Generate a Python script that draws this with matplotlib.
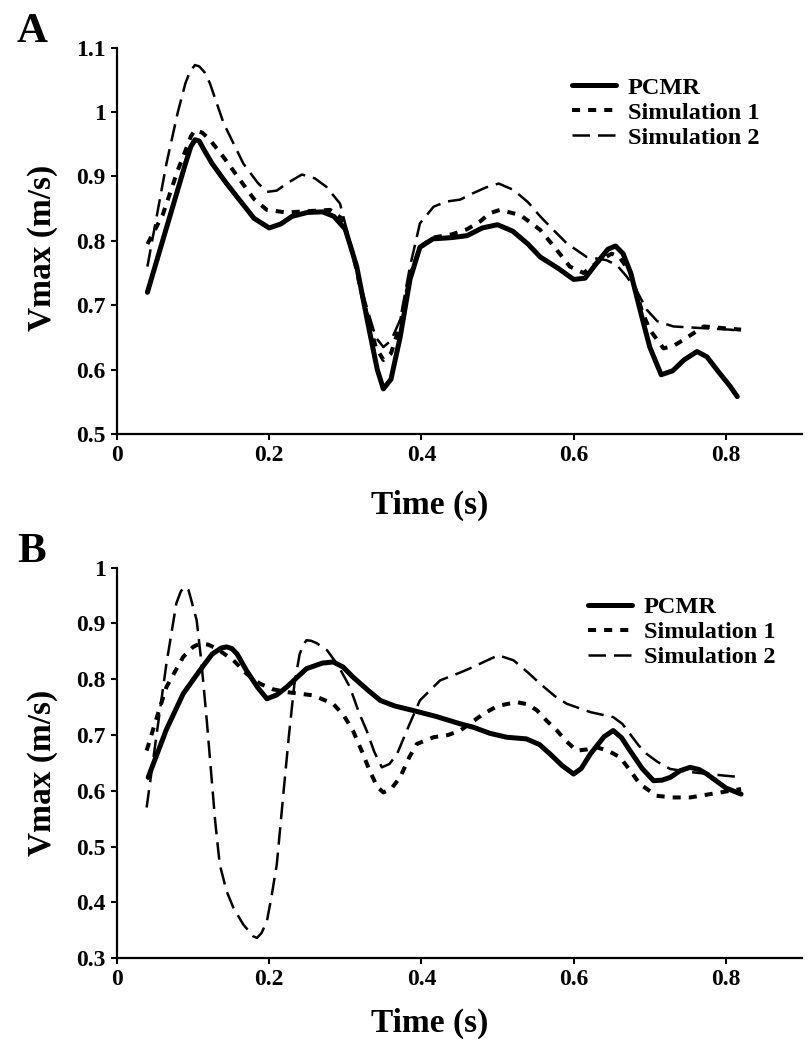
import matplotlib
matplotlib.use("Agg")
import matplotlib.pyplot as plt
from matplotlib.ticker import FuncFormatter, MultipleLocator

plt.rcParams['font.family'] = ['Liberation Serif', 'DejaVu Serif']
plt.rcParams['font.weight'] = 'bold'

# ---- Panel A data (time in s, Vmax in m/s) ----
a_pcmr_t = [0.04, 0.06, 0.08, 0.09, 0.097, 0.1025, 0.108, 0.115, 0.125, 0.144, 0.16, 0.18,
            0.2, 0.215, 0.23, 0.25, 0.27, 0.285, 0.3, 0.315, 0.33, 0.342, 0.35, 0.36, 0.372,
            0.385, 0.398, 0.415, 0.44, 0.46, 0.48, 0.5, 0.52, 0.54, 0.556, 0.58, 0.6, 0.615,
            0.63, 0.645, 0.655, 0.665, 0.675, 0.69, 0.7, 0.715, 0.73, 0.745, 0.762,
            0.775, 0.79, 0.805, 0.815]
a_pcmr_v = [0.72, 0.80, 0.88, 0.92, 0.946, 0.957, 0.955, 0.94, 0.92, 0.889, 0.865, 0.835,
            0.82, 0.826, 0.838, 0.844, 0.845, 0.838, 0.818, 0.76, 0.67, 0.60, 0.57, 0.585, 0.65,
            0.74, 0.79, 0.803, 0.805, 0.808, 0.82, 0.825, 0.815, 0.795, 0.775, 0.757, 0.74, 0.742,
            0.765, 0.787, 0.792, 0.78, 0.75, 0.68, 0.635, 0.592, 0.598, 0.615, 0.628,
            0.62, 0.597, 0.575, 0.558]

a_sim1_t = [0.04, 0.06, 0.08, 0.09, 0.097, 0.1025, 0.112, 0.122, 0.14, 0.162, 0.18, 0.197,
            0.223, 0.25, 0.28, 0.295, 0.31, 0.325, 0.34, 0.35, 0.36, 0.372, 0.385, 0.398, 0.415,
            0.44, 0.46, 0.477, 0.49, 0.503, 0.53, 0.556, 0.575, 0.595, 0.613, 0.635, 0.65,
            0.66, 0.675, 0.69, 0.7, 0.718, 0.73, 0.744, 0.771, 0.8, 0.82]
a_sim1_v = [0.795, 0.84, 0.91, 0.94, 0.962, 0.972, 0.968, 0.957, 0.93, 0.894, 0.865, 0.848,
            0.844, 0.846, 0.848, 0.835, 0.78, 0.70, 0.635, 0.615, 0.625, 0.67, 0.745, 0.79, 0.805,
            0.81, 0.818, 0.83, 0.843, 0.848, 0.84, 0.817, 0.79, 0.76, 0.75, 0.77, 0.78,
            0.775, 0.75, 0.69, 0.662, 0.633, 0.636, 0.646, 0.667, 0.664, 0.662]

a_sim2_t = [0.04, 0.065, 0.08, 0.09, 0.096, 0.1025, 0.108, 0.115, 0.122, 0.14, 0.166, 0.185,
            0.197, 0.21, 0.223, 0.243, 0.26, 0.275, 0.293, 0.31, 0.325, 0.34, 0.35, 0.36, 0.372,
            0.385, 0.398, 0.416, 0.433, 0.451, 0.468, 0.485, 0.5016, 0.521, 0.54, 0.556, 0.575,
            0.591, 0.617, 0.643, 0.657, 0.67, 0.684, 0.696, 0.71, 0.731, 0.76, 0.806, 0.82]
a_sim2_v = [0.76, 0.92, 1.0, 1.045, 1.063, 1.073, 1.071, 1.062, 1.045, 0.983, 0.92, 0.89,
            0.876, 0.878, 0.889, 0.903, 0.897, 0.884, 0.858, 0.78, 0.71, 0.65, 0.635, 0.645, 0.677,
            0.76, 0.827, 0.853, 0.861, 0.864, 0.874, 0.883, 0.889, 0.879, 0.86, 0.838, 0.815,
            0.796, 0.775, 0.77, 0.762, 0.744, 0.72, 0.693, 0.675, 0.667, 0.665, 0.662, 0.66]

# ---- Panel B data ----
b_pcmr_t = [0.041, 0.065, 0.087, 0.109, 0.125, 0.137, 0.144, 0.151, 0.158, 0.17, 0.185,
            0.197, 0.21, 0.223, 0.249, 0.27, 0.284, 0.297, 0.31, 0.33, 0.346, 0.365, 0.389,
            0.42, 0.451, 0.468, 0.49, 0.512, 0.538, 0.555, 0.569, 0.585, 0.6, 0.61, 0.622,
            0.64, 0.652, 0.663, 0.674, 0.69, 0.705, 0.716, 0.727, 0.74, 0.753, 0.765, 0.775,
            0.79, 0.8, 0.82]
b_pcmr_v = [0.624, 0.71, 0.774, 0.816, 0.845, 0.856, 0.858, 0.855, 0.845, 0.816, 0.785,
            0.765, 0.772, 0.786, 0.819, 0.829, 0.831, 0.822, 0.804, 0.78, 0.762, 0.752, 0.744,
            0.733, 0.72, 0.714, 0.703, 0.696, 0.693, 0.683, 0.666, 0.645, 0.63, 0.64, 0.666,
            0.697, 0.708, 0.695, 0.672, 0.64, 0.618, 0.619, 0.624, 0.636, 0.642, 0.638, 0.63,
            0.615, 0.605, 0.594]

b_sim1_t = [0.039, 0.052, 0.065, 0.087, 0.1, 0.109, 0.12, 0.131, 0.153, 0.17, 0.188, 0.205,
            0.223, 0.258, 0.284, 0.298, 0.31, 0.322, 0.332, 0.342, 0.35, 0.36, 0.372, 0.384,
            0.394, 0.416, 0.435, 0.451, 0.4815, 0.5, 0.525, 0.54, 0.552, 0.565, 0.578, 0.591,
            0.604, 0.617, 0.63, 0.645, 0.661, 0.675, 0.687, 0.709, 0.73, 0.753, 0.775, 0.793,
            0.806, 0.82]
b_sim1_v = [0.672, 0.73, 0.786, 0.84, 0.858, 0.864, 0.862, 0.855, 0.834, 0.81, 0.792, 0.782,
            0.777, 0.771, 0.756, 0.735, 0.708, 0.67, 0.636, 0.607, 0.597, 0.603, 0.624, 0.66,
            0.684, 0.696, 0.70, 0.708, 0.738, 0.752, 0.759, 0.755, 0.744, 0.725, 0.708, 0.688,
            0.672, 0.674, 0.678, 0.672, 0.66, 0.635, 0.612, 0.591, 0.588, 0.588, 0.593, 0.597,
            0.60, 0.603]

b_sim2_t = [0.039, 0.052, 0.065, 0.078, 0.084, 0.0894, 0.094, 0.097, 0.1047, 0.111, 0.118,
            0.129, 0.135, 0.144, 0.153, 0.166, 0.179, 0.184, 0.19, 0.197, 0.203, 0.21, 0.219,
            0.226, 0.233, 0.24, 0.245, 0.249, 0.255, 0.262, 0.276, 0.29, 0.306, 0.318, 0.328,
            0.338, 0.348, 0.358, 0.368, 0.383, 0.398, 0.4246, 0.451, 0.468, 0.485, 0.501,
            0.521, 0.54, 0.556, 0.575, 0.591, 0.622, 0.652, 0.664, 0.674, 0.685, 0.696, 0.71,
            0.727, 0.757, 0.799, 0.815]
b_sim2_v = [0.57, 0.70, 0.828, 0.936, 0.958, 0.966, 0.96, 0.945, 0.906, 0.83, 0.726,
            0.546, 0.468, 0.42, 0.39, 0.36, 0.339, 0.336, 0.345, 0.366, 0.41, 0.468, 0.60,
            0.70, 0.79, 0.845, 0.862, 0.87, 0.869, 0.865, 0.852, 0.826, 0.786, 0.74, 0.708,
            0.67, 0.642, 0.648, 0.666, 0.715, 0.762, 0.798, 0.812, 0.822, 0.833, 0.843,
            0.834, 0.812, 0.792, 0.77, 0.756, 0.741, 0.732, 0.72, 0.702, 0.682, 0.666, 0.652,
            0.639, 0.633, 0.627, 0.625]

series_labels = ['PCMR', 'Simulation 1', 'Simulation 2']

fig = plt.figure(figsize=(8.1, 10.5), dpi=100)
ax_a = fig.add_axes([0.1444, 0.5867, 0.8457, 0.3679])
ax_b = fig.add_axes([0.1444, 0.0876, 0.8457, 0.3717])

styles = [
    dict(color='black', lw=3.6, ls='-', solid_capstyle='round', solid_joinstyle='round'),
    dict(color='black', lw=2.9, ls=(0, (2.0, 2.0)), dash_joinstyle='round'),
    dict(color='black', lw=1.8, ls=(0, (7.0, 3.2)), dash_joinstyle='round'),
]


def setup(ax, ylo, yhi, data, legend_xy):
    for (t, v), st, lab in zip(data, styles, series_labels):
        ax.plot(t, v, label=lab, **st)
    ax.set_xlim(0, 0.9)
    ax.set_ylim(ylo, yhi)
    ax.xaxis.set_major_locator(MultipleLocator(0.2))
    ax.yaxis.set_major_locator(MultipleLocator(0.1))
    fmt = FuncFormatter(lambda x, p: f"{round(x, 2):g}")
    ax.xaxis.set_major_formatter(fmt)
    ax.yaxis.set_major_formatter(fmt)
    for s in ['top', 'right']:
        ax.spines[s].set_visible(False)
    for s in ['left', 'bottom']:
        ax.spines[s].set_linewidth(1.6)
    ax.tick_params(direction='out', length=4, width=1.5, labelsize=17, pad=4)
    for lbl in ax.get_xticklabels() + ax.get_yticklabels():
        lbl.set_fontweight('bold')
    leg = ax.legend(loc='upper left', bbox_to_anchor=legend_xy, frameon=False,
                    fontsize=17.5, handlelength=1.8, handletextpad=0.5,
                    labelspacing=0.12, borderpad=0, borderaxespad=0)
    for txt in leg.get_texts():
        txt.set_fontweight('bold')


setup(ax_a, 0.5, 1.1, [(a_pcmr_t, a_pcmr_v), (a_sim1_t, a_sim1_v), (a_sim2_t, a_sim2_v)],
      (0.664, 0.925))
setup(ax_b, 0.3, 1.0, [(b_pcmr_t, b_pcmr_v), (b_sim1_t, b_sim1_v), (b_sim2_t, b_sim2_v)],
      (0.6876, 0.927))

# axis titles and panel letters
fig.text(0.0519, 0.7638, 'Vmax (m/s)', rotation=90, ha='center', va='center',
         fontsize=24, fontweight='bold')
fig.text(0.0519, 0.2638, 'Vmax (m/s)', rotation=90, ha='center', va='center',
         fontsize=24, fontweight='bold')
fig.text(0.531, 0.519, 'Time (s)', ha='center', va='center', fontsize=24, fontweight='bold')
fig.text(0.531, 0.0257, 'Time (s)', ha='center', va='center', fontsize=24, fontweight='bold')
fig.text(0.0395, 0.9695, 'A', ha='center', va='center', fontsize=31, fontweight='bold')
fig.text(0.0395, 0.474, 'B', ha='center', va='center', fontsize=31, fontweight='bold')

fig.savefig('out.png', dpi=100, facecolor='white')
